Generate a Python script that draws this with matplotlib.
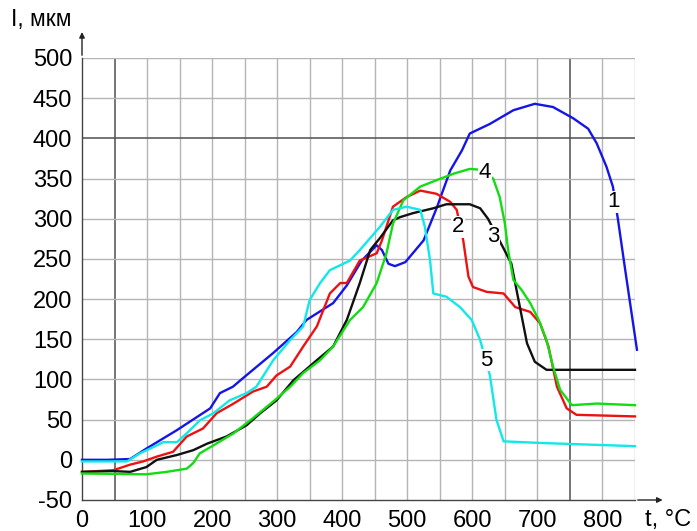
import numpy as np
import matplotlib.pyplot as plt

plt.rcParams['font.family'] = ['Liberation Sans', 'DejaVu Sans']
plt.rcParams['axes.unicode_minus'] = False

# curve 1 (blue)
t1 = [0, 40, 74, 99, 146, 197, 212, 232, 248, 294, 330, 345, 386, 407, 430, 453, 461,
      471, 481, 497, 525, 545, 566, 584, 596, 627, 663, 696, 724, 755, 778, 791, 806,
      816, 824, 835, 853]
l1 = [0, 0, 1, 14, 37, 64, 83, 91, 102, 133, 159, 174, 195, 217, 248, 267, 261,
      244, 241, 246, 273, 313, 360, 385, 406, 418, 435, 443, 439, 425, 412, 394, 365,
      340, 298, 236, 137]

# curve 2 (red)
t2 = [0, 48, 74, 94, 115, 140, 161, 186, 207, 233, 263, 284, 299, 320, 340, 361, 381,
      397, 407, 427, 453, 461, 478, 499, 520, 545, 566, 576, 586, 594, 601, 622, 648,
      666, 689, 704, 717, 730, 745, 760, 850]
l2 = [-15, -13, -6, -2, 4, 10, 29, 39, 58, 70, 85, 91, 105, 116, 141, 166, 207,
      220, 220, 248, 257, 273, 315, 327, 335, 331, 321, 311, 273, 228, 215, 209, 207,
      190, 184, 170, 141, 91, 64, 56, 54]

# curve 3 (black)
t3 = [0, 48, 74, 99, 115, 146, 171, 192, 222, 253, 274, 299, 325, 361, 386, 407, 427,
      443, 458, 478, 489, 509, 540, 560, 596, 612, 624, 648, 660, 668, 676, 684, 696,
      714, 850]
l3 = [-15, -14, -15, -9, 0, 6, 12, 20, 29, 43, 58, 74, 99, 124, 141, 174, 220,
      261, 276, 298, 302, 307, 313, 318, 318, 313, 300, 263, 244, 211, 178, 145, 122,
      112, 112]

# curve 4 (green)
t4 = [0, 99, 130, 161, 171, 181, 202, 233, 263, 299, 320, 340, 366, 386, 412, 432,
      453, 468, 478, 494, 520, 545, 571, 596, 612, 632, 642, 650, 655, 663, 676, 689,
      702, 714, 724, 735, 753, 791, 850]
l4 = [-17, -18, -15, -11, -4, 8, 18, 33, 52, 76, 91, 108, 124, 141, 174, 190,
      220, 257, 294, 323, 340, 348, 356, 362, 361, 350, 327, 294, 261, 224, 211, 195,
      174, 149, 116, 87, 68, 70, 68]

# curve 5 (cyan)
t5 = [0, 69, 89, 110, 125, 146, 161, 181, 202, 227, 253, 268, 294, 320, 340, 350,
      366, 381, 412, 427, 458, 478, 499, 520, 527, 535, 540, 560, 581, 599, 612, 627,
      637, 648, 704, 850]
l5 = [-2, -2, 8, 16, 22, 22, 33, 49, 58, 74, 83, 91, 124, 149, 166, 199,
      220, 236, 248, 261, 290, 311, 315, 311, 290, 248, 207, 203, 190, 174, 149, 105,
      50, 23, 21, 17]

labels = ['1', '2', '3', '4', '5']
label_t = [817, 578, 632, 619, 622]
label_l = [321, 290, 278, 357, 124]

curves = [(t1, l1, '#1515e8'), (t2, l2, '#ee1111'), (t3, l3, '#111111'),
          (t4, l4, '#11dd11'), (t5, l5, '#11e8e8')]

fig = plt.figure(figsize=(6.97, 5.31), dpi=100)
ax = fig.add_axes([82 / 697, 31 / 531, 553 / 697, 442 / 531])

ax.set_xlim(0, 850)
ax.set_ylim(-50, 500)
ax.set_xticks(np.arange(0, 801, 100))
ax.set_yticks(np.arange(-50, 501, 50))

# grid
for xv in np.arange(50, 851, 50):
    dark = xv in (50, 750)
    ax.axvline(xv, color='#505050' if dark else '#b4b4b4', lw=1.1 if dark else 1.0, zorder=0)
for yv in np.arange(0, 501, 50):
    dark = yv == 400
    ax.axhline(yv, color='#505050' if dark else '#b4b4b4', lw=1.1 if dark else 1.0, zorder=0)

for t, l, c in curves:
    ax.plot(t, l, color=c, lw=1.7, zorder=3, clip_on=False)

for s, x, y in zip(labels, label_t, label_l):
    ax.text(x, y, s, fontsize=16, ha='center', va='center', zorder=5,
            bbox=dict(facecolor='white', edgecolor='none', pad=0.5))

for side in ('top', 'right'):
    ax.spines[side].set_visible(False)
for side in ('left', 'bottom'):
    ax.spines[side].set_color('#444444')
    ax.spines[side].set_linewidth(1.0)

ax.tick_params(length=0, labelsize=17, pad=7)

# axis arrows
ax.annotate('', xy=(0, 1.065), xytext=(0, 1.0), xycoords='axes fraction',
            arrowprops=dict(arrowstyle='-|>', color='#222222', lw=1.0, mutation_scale=8))
ax.annotate('', xy=(1.055, 0), xytext=(1.0, 0), xycoords='axes fraction',
            arrowprops=dict(arrowstyle='-|>', color='#222222', lw=1.0, mutation_scale=8))

ax.text(-0.074, 1.088, 'I, мкм', transform=ax.transAxes, fontsize=16.5,
        ha='center', va='center')
ax.text(1.06, -0.045, 't, °C', transform=ax.transAxes, fontsize=17,
        ha='center', va='center')

fig.savefig('out.png', dpi=100)
